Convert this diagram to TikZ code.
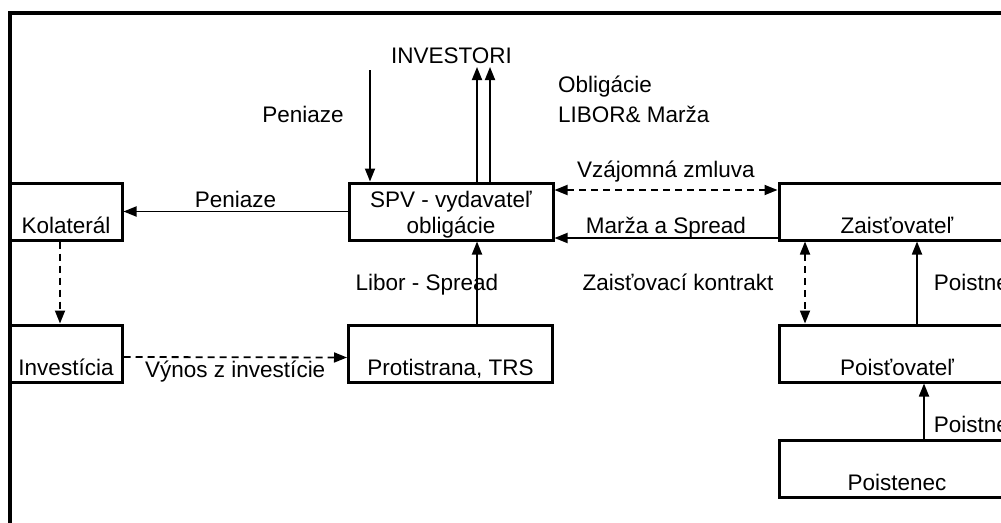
\documentclass[tikz,border=0pt]{standalone}
\usepackage{fontspec}
\setmainfont{Liberation Sans}
\usetikzlibrary{arrows.meta}

\begin{document}
\begin{tikzpicture}[x=1pt,y=-1pt,
    box/.style={draw,line width=3pt,inner sep=0pt,minimum height=57pt,
      text height=50pt,text depth=7pt},
    flow/.style={line width=1.8pt,-{Triangle[length=13pt,width=10pt]}},
    dashflow/.style={flow,dash pattern=on 7pt off 5pt},
    both/.style={dashflow,{Triangle[length=13pt,width=10pt]}-{Triangle[length=13pt,width=10pt]}},
    lbl/.style={anchor=base,inner sep=0pt}]
    \pgfmathsetmacro{\smallwidth}{112}
    \pgfmathsetmacro{\midwidth}{204}
    \pgfmathsetmacro{\widewidth}{236}
    \fontsize{22.5pt}{26pt}\selectfont
    \useasboundingbox (0,0) rectangle (1001,522);
    \clip (0,0) rectangle (1001,522);
    \draw[line width=4pt] (10,13) rectangle (1060,560);

    % boxes
    \node[box,minimum width=\smallwidth] (kolateral) at (66,211.5) {Kolaterál};
    \node[box,minimum width=\smallwidth] (investicia) at (66,353.5) {Investícia};
    \node[box,minimum width=\midwidth] (spv) at (451,211.5)
      {\begin{tabular}[b]{@{}c@{}}SPV - vydavateľ\\obligácie\end{tabular}};
    \node[box,minimum width=\midwidth] (protistrana) at (450.5,354) {Protistrana, TRS};
    \node[box,minimum width=\widewidth] (zaistovatel) at (897,211.5) {Zaisťovateľ};
    \node[box,minimum width=\widewidth] (poistovatel) at (897,353.5) {Poisťovateľ};
    \node[box,minimum width=\widewidth] (poistenec) at (897,468.5) {Poistenec};

    \node[lbl] (investori) at (451.5,63) {INVESTORI};
    \node[lbl] at (303,122) {Peniaze};
    \node[lbl,anchor=base west] at (558,92) {Obligácie};
    \node[lbl,anchor=base west] at (558,122) {LIBOR\& Marža};
    \coordinate (penin) at (370,70);
    \coordinate (invA) at (477,67);
    \coordinate (invB) at (490,67);

    % money and bond flows
    \draw[flow] (penin) -- ([xshift=-81pt]spv.north);
    \draw[flow] ([xshift=26pt]spv.north) -- (invA);
    \draw[flow] ([xshift=39pt]spv.north) -- (invB);
    \draw[flow] (spv.west) -- node[lbl,yshift=4.5pt] {Peniaze} (kolateral.east);
    \draw[dashflow] ([xshift=-6pt]kolateral.south) -- ([xshift=-6pt]investicia.north);
    \draw[dashflow] ([yshift=-3.5pt]investicia.east) -- node[lbl,yshift=-20pt] {Výnos z investície} ([yshift=-3.5pt]protistrana.west);
    \draw[flow] ([xshift=26.5pt]protistrana.north) -- node[lbl,xshift=-50pt,yshift=-7.5pt] {Libor - Spread} ([xshift=26pt]spv.south);
    \draw[both] ([yshift=21.5pt]spv.east) -- node[lbl,yshift=13pt] {Vzájomná zmluva} ([yshift=21.5pt]zaistovatel.west);
    \draw[flow] ([yshift=-26.5pt]zaistovatel.west) -- node[lbl,yshift=5pt] {Marža a Spread} ([yshift=-26.5pt]spv.east);

    % reinsurance side
    \draw[both] ([xshift=-92pt]zaistovatel.south) -- node[lbl,xshift=-127pt,yshift=-7.5pt] {Zaisťovací kontrakt} ([xshift=-92pt]poistovatel.north);
    \draw[flow] ([xshift=20pt]poistovatel.north) -- node[lbl,anchor=base west,xshift=16pt,yshift=-7.5pt] {Poistné} ([xshift=20pt]zaistovatel.south);
    \draw[flow] ([xshift=27pt]poistenec.north) -- node[lbl,anchor=base west,xshift=9pt,yshift=-21.5pt] {Poistné} ([xshift=27pt]poistovatel.south);
\end{tikzpicture}
\end{document}
